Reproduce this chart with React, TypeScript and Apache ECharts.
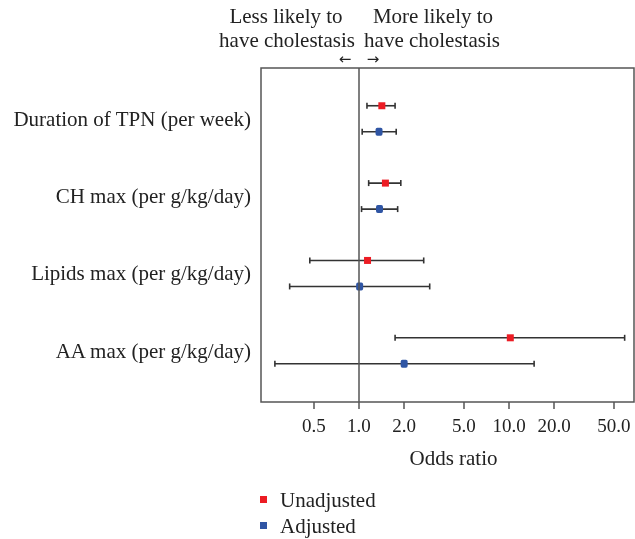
import React, { useEffect, useRef } from "react";
import * as echarts from "echarts";

const variables = [
  "Duration of TPN (per week)",
  "CH max (per g/kg/day)",
  "Lipids max (per g/kg/day)",
  "AA max (per g/kg/day)",
];
const unadjOR = [1.42, 1.5, 1.14, 10.2];
const unadjLo = [1.13, 1.16, 0.47, 1.74];
const unadjHi = [1.74, 1.9, 2.7, 59.0];
const adjOR = [1.36, 1.37, 1.01, 2.0];
const adjLo = [1.05, 1.04, 0.345, 0.275];
const adjHi = [1.77, 1.81, 2.96, 14.7];
const xTicks = [0.5, 1, 2, 5, 10, 20, 50];

const FONT = "Liberation Serif";
const RED = "#ec1c24";
const BLUE = "#2f55a4";
const OFFSET = 0.168;

export default function App() {
  const ref = useRef<HTMLDivElement>(null);
  useEffect(() => {
    if (!ref.current) return;
    const chart = echarts.init(ref.current, null, { renderer: "svg" });

    const unadjPts = unadjOR.map((v, i) => [v, i - OFFSET]);
    const adjPts = adjOR.map((v, i) => [v, i + OFFSET]);
    const bars = [
      ...unadjLo.map((lo, i) => [lo, unadjHi[i], i - OFFSET]),
      ...adjLo.map((lo, i) => [lo, adjHi[i], i + OFFSET]),
    ];

    const renderItem = (params: any, api: any) => {
      const p1 = api.coord([api.value(0), api.value(2)]);
      const p2 = api.coord([api.value(1), api.value(2)]);
      const st = { stroke: "#333", lineWidth: 1.6 };
      const h = 3;
      return {
        type: "group",
        children: [
          { type: "line", shape: { x1: p1[0], y1: p1[1], x2: p2[0], y2: p2[1] }, style: st },
          { type: "line", shape: { x1: p1[0], y1: p1[1] - h, x2: p1[0], y2: p1[1] + h }, style: st },
          { type: "line", shape: { x1: p2[0], y1: p2[1] - h, x2: p2[0], y2: p2[1] + h }, style: st },
        ],
      };
    };

    const txt = (text: string, x: number, y: number) => ({
      type: "text",
      x,
      y,
      style: {
        text,
        font: `21px ${FONT}`,
        fill: "#222",
        textAlign: "center",
        textVerticalAlign: "middle",
      },
    });
    const arrow = (text: string, x: number) => ({
      type: "text",
      x,
      y: 59,
      style: {
        text,
        font: `15px DejaVu Sans`,
        lineHeight: 12,
        fill: "#222",
        textAlign: "center",
        textVerticalAlign: "middle",
      },
    });

    const legendBase = {
      orient: "vertical",
      left: 260,
      padding: 0,
      itemWidth: 7,
      itemHeight: 7,
      icon: "rect",
      textStyle: { fontFamily: FONT, fontSize: 21, color: "#222", padding: [0, 0, 0, 8] },
    };

    chart.setOption({
      animation: false,
      textStyle: { fontFamily: FONT },
      grid: {
        left: 261,
        top: 68,
        right: 1,
        bottom: 137,
        show: true,
        borderColor: "#555",
        borderWidth: 1.5,
      },
      xAxis: {
        type: "log",
        logBase: 10,
        min: 0.2222,
        max: 68.1,
        axisLine: { show: false, onZero: false },
        splitLine: { show: false },
        minorTick: { show: false },
        axisTick: {
          show: true,
          length: 7,
          lineStyle: { color: "#555", width: 1.5 },
          customValues: xTicks,
        },
        axisLabel: {
          customValues: xTicks,
          fontFamily: FONT,
          fontSize: 19,
          color: "#222",
          margin: 14,
          formatter: (v: number) => Number(v).toFixed(1),
        },
        name: "Odds ratio",
        nameLocation: "middle",
        nameGap: 45,
        nameTextStyle: { fontFamily: FONT, fontSize: 21, color: "#222", padding: [0, 0, 0, 12] },
      },
      yAxis: {
        type: "value",
        min: -0.656,
        max: 3.662,
        inverse: true,
        axisLine: { show: false, onZero: false },
        axisTick: { show: false },
        splitLine: { show: false },
        axisLabel: {
          customValues: [0, 1, 2, 3],
          fontFamily: FONT,
          fontSize: 21,
          color: "#222",
          margin: 10,
          formatter: (v: number) => variables[Math.round(v)] ?? "",
        },
      },
      legend: [
        { ...legendBase, top: 489, data: ["Unadjusted"] },
        { ...legendBase, top: 515, data: ["Adjusted"] },
      ],
      graphic: [
        txt("Less likely to", 286, 16),
        txt("have cholestasis", 287, 39.5),
        txt("More likely to", 433, 16),
        txt("have cholestasis", 432, 39.5),
        arrow("\u2190", 345),
        arrow("\u2192", 373),
      ],
      series: [
        {
          name: "ci",
          type: "custom",
          renderItem,
          data: bars,
          encode: { x: [0, 1], y: 2 },
          z: 2,
          markLine: {
            silent: true,
            symbol: "none",
            label: { show: false },
            lineStyle: { color: "#555", width: 1.5, type: "solid" },
            data: [{ xAxis: 1 }],
          },
        },
        {
          name: "Unadjusted",
          type: "scatter",
          symbol: "rect",
          symbolSize: 7,
          itemStyle: { color: RED, opacity: 1 },
          data: unadjPts,
          z: 3,
        },
        {
          name: "Adjusted",
          type: "scatter",
          symbol: "roundRect",
          symbolSize: [7, 8],
          itemStyle: { color: BLUE, opacity: 1 },
          data: adjPts,
          z: 3,
        },
      ],
    });
    return () => chart.dispose();
  }, []);
  return <div ref={ref} style={{ position: "fixed", left: 0, top: 0, width: 635, height: 539 }} />;
}
